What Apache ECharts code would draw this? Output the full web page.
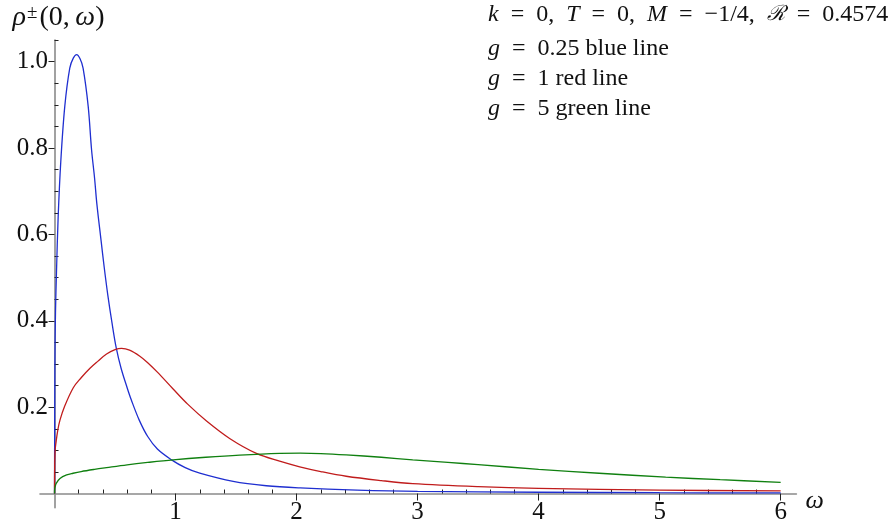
<!DOCTYPE html>
<html>
<head>
<meta charset="utf-8">
<script src="https://cdn.jsdelivr.net/npm/echarts@6/dist/echarts.min.js"></script>
<style>
html, body { margin: 0; padding: 0; background: #ffffff; }
#chart { width: 896px; height: 530px; }
</style>
</head>
<body>
<div id="chart"></div>
<script>
// Spectral function rho±(0, omega) at k = 0, T = 0 for three couplings g.
const omegaBlue = [0, 0.003, 0.008, 0.016, 0.03, 0.052, 0.085, 0.126, 0.155, 0.183, 0.21, 0.236, 0.278, 0.306, 0.331, 0.35, 0.385, 0.41, 0.44, 0.475, 0.51, 0.55, 0.6, 0.634, 0.7, 0.77, 0.85, 0.967, 1.08, 1.2, 1.476, 1.75, 2.03, 2.5, 3, 4, 5, 6];
const rhoBlue   = [0, 0.3, 0.42, 0.51, 0.64, 0.77, 0.897, 0.985, 1.008, 1.016, 1.007, 0.985, 0.897, 0.796, 0.73, 0.67, 0.585, 0.525, 0.46, 0.395, 0.337, 0.29, 0.245, 0.217, 0.17, 0.132, 0.103, 0.078, 0.06, 0.047, 0.028, 0.018, 0.013, 0.008, 0.005, 0.003, 0.002, 0.0015];

const omegaRed = [0, 0.001, 0.005, 0.012, 0.027, 0.045, 0.082, 0.155, 0.22, 0.293, 0.357, 0.43, 0.5, 0.554, 0.62, 0.705, 0.77, 0.85, 0.98, 1.1, 1.256, 1.45, 1.668, 1.86, 2.026, 2.2, 2.41, 2.7, 2.96, 3.5, 4, 5, 6];
const rhoRed   = [0, 0.06, 0.1, 0.118, 0.147, 0.17, 0.201, 0.245, 0.268, 0.29, 0.306, 0.323, 0.333, 0.336, 0.332, 0.318, 0.303, 0.281, 0.242, 0.207, 0.168, 0.127, 0.093, 0.075, 0.062, 0.051, 0.04, 0.03, 0.023, 0.016, 0.012, 0.008, 0.006];

const omegaGreen = [0, 0.001, 0.005, 0.015, 0.045, 0.1, 0.153, 0.22, 0.33, 0.43, 0.6, 0.77, 0.98, 1.25, 1.53, 1.86, 2.03, 2.2, 2.41, 2.7, 2.96, 3.25, 3.5, 4, 4.5, 5.05, 5.5, 6];
const rhoGreen   = [0, 0.01, 0.016, 0.024, 0.035, 0.043, 0.047, 0.051, 0.056, 0.06, 0.0665, 0.072, 0.078, 0.084, 0.089, 0.093, 0.0935, 0.0925, 0.0895, 0.084, 0.078, 0.072, 0.067, 0.056, 0.047, 0.038, 0.032, 0.026];

// Tick labels
const xTickLabels = [1, 2, 3, 4, 5, 6];
const yTickLabels = [0.2, 0.4, 0.6, 0.8, 1.0];

// Minor tick positions (every 0.2 on omega, every 0.05 on rho), skipping the labelled ones
function minorTicks(step, count, majors) {
  const out = [];
  for (let i = 1; i <= count; i++) {
    const v = Math.round(i * step * 1000) / 1000;
    if (!majors.some(m => Math.abs(m - v) < 1e-9)) out.push(v);
  }
  return out;
}
const xMinor = minorTicks(0.2, 30, xTickLabels);
const yMinor = minorTicks(0.05, 21, yTickLabels);

const zip = (xs, ys) => xs.map((x, i) => [x, ys[i]]);

const SERIF = "'Liberation Serif', 'DejaVu Serif', serif";
const AXIS_GRAY = '#8a8a8a';
const TICK_COLOR = '#222222';
const X_MIN = -0.12, X_MAX = 6.13;
const Y_MIN = -0.033, Y_MAX = 1.05;

const chart = echarts.init(document.getElementById('chart'), null, { renderer: 'canvas' });

const EN = '\u2002'; // wider spaces around relation signs
const note = (top, text) => ({
  type: 'text',
  left: 488,
  top: top,
  silent: true,
  style: {
    text: text,
    fill: '#111',
    font: '24px ' + SERIF,
    rich: {
      i: { fontFamily: SERIF, fontStyle: 'italic', fontSize: 24, fill: '#111' },
      n: { fontFamily: SERIF, fontSize: 24, fill: '#111' },
      c: { fontFamily: "'DejaVu Serif', serif", fontStyle: 'italic', fontSize: 21, fill: '#111' }
    }
  }
});

const lineSeries = (name, xs, ys, color) => ({
  name: name, type: 'line', xAxisIndex: 0, yAxisIndex: 0,
  data: zip(xs, ys),
  showSymbol: false, smooth: 0.35,
  lineStyle: { color: color, width: 1.3 }, silent: true, z: 3
});

chart.setOption({
  animation: false,
  backgroundColor: '#ffffff',
  grid: {
    left: 40, right: 896 - 796.4, top: 40, bottom: 530 - 507.8,
    containLabel: false,
    outerBoundsMode: 'none'
  },
  xAxis: [
    {
      type: 'value', min: X_MIN, max: X_MAX,
      name: '{w|ω}',
      nameLocation: 'end',
      nameGap: 9,
      nameTextStyle: {
        rich: { w: { fontFamily: SERIF, fontStyle: 'italic', fontSize: 26, color: '#111', padding: [16, 0, 0, 0] } }
      },
      axisLine: { show: true, onZero: true, onZeroAxisIndex: 0, lineStyle: { color: AXIS_GRAY, width: 1.6 } },
      axisTick: { show: true, inside: false, length: 7, customValues: xTickLabels, lineStyle: { color: TICK_COLOR, width: 1 } },
      axisLabel: { show: true, customValues: xTickLabels, margin: -8, fontFamily: SERIF, fontSize: 25, color: '#111', formatter: v => String(v) },
      splitLine: { show: false }
    },
    {
      type: 'value', min: X_MIN, max: X_MAX,
      axisLine: { show: false, onZero: true, onZeroAxisIndex: 0 },
      axisTick: { show: true, inside: false, length: 4, customValues: xMinor, lineStyle: { color: TICK_COLOR, width: 1 } },
      axisLabel: { show: false },
      splitLine: { show: false }
    }
  ],
  yAxis: [
    {
      type: 'value', min: Y_MIN, max: Y_MAX,
      name: '{i|ρ}{s|±}{n|(0,\u2009}{i|ω}{n|)}',
      nameLocation: 'end',
      nameGap: 8,
      nameTextStyle: {
        align: 'center',
        padding: [0, 0, 0, 8],
        rich: {
          i: { fontFamily: SERIF, fontStyle: 'italic', fontSize: 28, color: '#111' },
          n: { fontFamily: SERIF, fontSize: 28, color: '#111' },
          s: { fontFamily: SERIF, fontSize: 19, color: '#111', verticalAlign: 'top', padding: [0, 2, 8, 1] }
        }
      },
      axisLine: { show: true, onZero: true, onZeroAxisIndex: 0, lineStyle: { color: AXIS_GRAY, width: 1.6 } },
      axisTick: { show: true, inside: false, length: 6, customValues: yTickLabels, lineStyle: { color: TICK_COLOR, width: 1 } },
      axisLabel: { show: true, customValues: yTickLabels, margin: -8, fontFamily: SERIF, fontSize: 25, color: '#111', formatter: v => v.toFixed(1) },
      splitLine: { show: false }
    },
    {
      type: 'value', min: Y_MIN, max: Y_MAX,
      axisLine: { show: false, onZero: true, onZeroAxisIndex: 0 },
      axisTick: { show: true, inside: false, length: 4, customValues: yMinor, lineStyle: { color: TICK_COLOR, width: 1 } },
      axisLabel: { show: false },
      splitLine: { show: false }
    }
  ],
  graphic: [
    note(3,  `{i|k}{n|${EN}=${EN}0,  }{i|T}{n|${EN}=${EN}0,  }{i|M}{n|${EN}=${EN}−1/4,  }{c|ℛ}{n|${EN}=${EN}0.4574}`),
    note(37, `{i|g}{n|${EN}=${EN}0.25 blue line}`),
    note(67, `{i|g}{n|${EN}=${EN}1 red line}`),
    note(97, `{i|g}{n|${EN}=${EN}5 green line}`)
  ],
  series: [
    lineSeries('g = 0.25', omegaBlue, rhoBlue, '#1f2fd0'),
    lineSeries('g = 1', omegaRed, rhoRed, '#c01c1c'),
    lineSeries('g = 5', omegaGreen, rhoGreen, '#108010')
  ]
});
</script>
</body>
</html>
